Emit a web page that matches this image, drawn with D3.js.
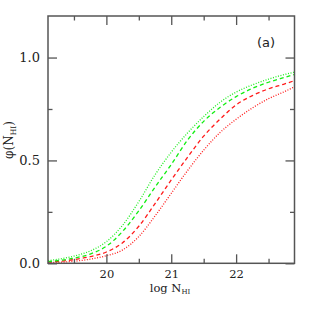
<!DOCTYPE html>
<html><head><meta charset="utf-8">
<script src="https://cdn.jsdelivr.net/npm/d3@7"></script>
<style>html,body{margin:0;padding:0;background:#fff;}svg{display:block;}</style>
</head><body>
<script>
// log N_HI sample points
const logN = [19.1, 19.5, 19.75, 20.0, 20.25, 20.5, 20.75, 21.0, 21.25, 21.5, 21.75, 22.0, 22.25, 22.5, 22.75, 22.9];
// phi(N_HI) for the four curves
const greenDotted = [0.013, 0.035, 0.06, 0.105, 0.185, 0.30, 0.43, 0.54, 0.633, 0.713, 0.782, 0.832, 0.867, 0.895, 0.918, 0.929];
const greenDashed = [0.008, 0.025, 0.045, 0.083, 0.155, 0.255, 0.37, 0.48, 0.598, 0.69, 0.757, 0.81, 0.85, 0.88, 0.904, 0.918];
const redDashed   = [0.005, 0.018, 0.032, 0.055, 0.10, 0.18, 0.29, 0.405, 0.515, 0.618, 0.70, 0.77, 0.815, 0.848, 0.872, 0.888];
const redDotted   = [0.003, 0.01, 0.02, 0.037, 0.065, 0.13, 0.23, 0.34, 0.45, 0.55, 0.635, 0.70, 0.755, 0.80, 0.835, 0.858];
const xMajor = [20, 21, 22];
const xMinor = [19.5, 20.5, 21.5, 22.5];
const yMajor = [0, 0.5, 1.0];
const yMinor = [0.25, 0.75];
const yLabels = ["0.0", "0.5", "1.0"];

const series = [
  {v: redDotted,   color: "#ff1a1a", dash: "1,1.6"},
  {v: redDashed,   color: "#ff1a1a", dash: "4,3"},
  {v: greenDashed, color: "#11ee11", dash: "4,3"},
  {v: greenDotted, color: "#22ee22", dash: "1,1.6"}
];

const W = 311, H = 311;
const L = 48, R = 294.5, T = 16, B = 263.3;
const svg = d3.select("body").append("svg").attr("width", W).attr("height", H);
const x = d3.scaleLinear().domain([19.1, 22.9]).range([L, R]);
const y = d3.scaleLinear().domain([0, 1.2]).range([B, T + 0.4]);

const line = d3.line().x(d => x(d[0])).y(d => y(d[1])).curve(d3.curveMonotoneX);
const g = svg.append("g");
series.forEach(s => {
  g.append("path")
    .attr("d", line(logN.map((n, i) => [n, s.v[i]])))
    .attr("fill", "none")
    .attr("stroke", s.color)
    .attr("stroke-width", 1.3)
    .attr("stroke-dasharray", s.dash);
});

const axisColor = "#555";
function styleAxis(fs) {
  return sel => {
    sel.select(".domain").remove();
    sel.selectAll(".tick line").attr("stroke", axisColor).attr("stroke-width", 1.3);
    sel.selectAll("text").attr("font-family", "'DejaVu Serif', serif").attr("font-size", fs).attr("fill", "#222");
  };
}
// bottom
svg.append("g").attr("transform", `translate(0,${B})`)
  .call(d3.axisBottom(x).tickValues(xMajor).tickSize(-9).tickPadding(7).tickFormat(d3.format("d"))).call(styleAxis(11.5));
svg.append("g").attr("transform", `translate(0,${B})`)
  .call(d3.axisBottom(x).tickValues(xMinor).tickSize(-4.5).tickFormat("")).call(styleAxis(11.5));
// top
svg.append("g").attr("transform", `translate(0,${T})`)
  .call(d3.axisTop(x).tickValues(xMajor).tickSize(-9).tickFormat("")).call(styleAxis(11.5));
svg.append("g").attr("transform", `translate(0,${T})`)
  .call(d3.axisTop(x).tickValues(xMinor).tickSize(-4.5).tickFormat("")).call(styleAxis(11.5));
// left
svg.append("g").attr("transform", `translate(${L},0)`)
  .call(d3.axisLeft(y).tickValues(yMajor).tickSize(-9).tickPadding(8).tickFormat((d, i) => yLabels[i])).call(styleAxis(13));
svg.append("g").attr("transform", `translate(${L},0)`)
  .call(d3.axisLeft(y).tickValues(yMinor).tickSize(-4.5).tickFormat("")).call(styleAxis(13));
// right
svg.append("g").attr("transform", `translate(${R},0)`)
  .call(d3.axisRight(y).tickValues(yMajor).tickSize(-9).tickFormat("")).call(styleAxis(13));
svg.append("g").attr("transform", `translate(${R},0)`)
  .call(d3.axisRight(y).tickValues(yMinor).tickSize(-4.5).tickFormat("")).call(styleAxis(13));

// frame
svg.append("rect").attr("x", L).attr("y", T).attr("width", R - L).attr("height", B - T)
  .attr("fill", "none").attr("stroke", axisColor).attr("stroke-width", 1.5);

// x label
const xl = svg.append("text").attr("x", 170).attr("y", 292).attr("text-anchor", "middle")
  .attr("font-family", "'DejaVu Serif', serif").attr("font-size", 11.5).attr("fill", "#222");
xl.append("tspan").text("log  N");
xl.append("tspan").attr("font-size", 7).attr("dy", 2).text("HI");

// y label
const yl = svg.append("text").attr("transform", "translate(13,140) rotate(-90)").attr("text-anchor", "middle")
  .attr("font-family", "'DejaVu Serif', serif").attr("font-size", 12).attr("fill", "#222");
yl.append("tspan").text("\u03C6(N");
yl.append("tspan").attr("font-size", 7.5).attr("dy", 3).text("HI");
yl.append("tspan").attr("dy", -3).text(")");

// panel label
svg.append("text").attr("x", 266).attr("y", 47).attr("text-anchor", "middle")
  .attr("font-family", "'DejaVu Sans', sans-serif").attr("font-size", 13).attr("fill", "#222").text("(a)");
</script>
</body></html>
